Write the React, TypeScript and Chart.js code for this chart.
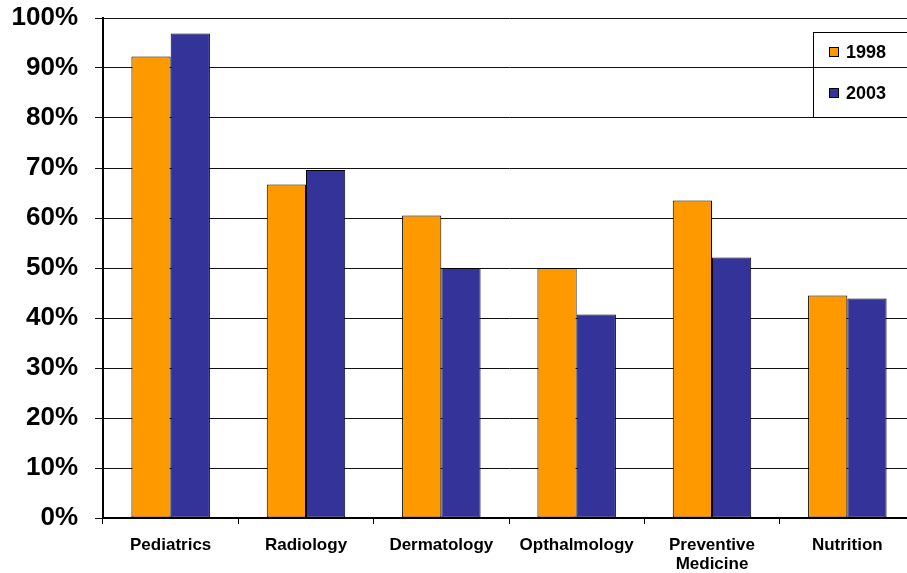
import React, { useEffect, useRef } from 'react';
import { Chart, registerables } from 'chart.js';

Chart.register(...registerables);

const categories: (string | string[])[] = [
  'Pediatrics',
  'Radiology',
  'Dermatology',
  'Opthalmology',
  ['Preventive', 'Medicine'],
  'Nutrition',
];
const seriesLabels = ['1998', '2003'];
const values1998 = [92.3, 66.7, 60.5, 50.0, 63.5, 44.5];
const values2003 = [96.9, 69.6, 50.0, 40.7, 52.1, 43.9];
const colors = ['#FF9900', '#333399'];
const yMin = 0;
const yMax = 100;
const yStep = 10;

const FONT = "Arial, 'Liberation Sans', Helvetica, sans-serif";

const boxLegend = {
  id: 'boxLegend',
  afterDatasetsDraw(chart: any) {
    const ctx = chart.ctx as CanvasRenderingContext2D;
    ctx.save();
    ctx.strokeStyle = '#000';
    ctx.lineWidth = 1;
    ctx.strokeRect(813.5, 32.5, 200, 85);
    chart.data.datasets.forEach((ds: any, i: number) => {
      const cy = 52 + i * 41;
      ctx.fillStyle = ds.backgroundColor;
      ctx.fillRect(829, cy - 5, 10, 10);
      ctx.strokeRect(829.5, cy - 4.5, 9, 9);
      ctx.fillStyle = '#000';
      ctx.font = `bold 18px ${FONT}`;
      ctx.textBaseline = 'middle';
      ctx.textAlign = 'left';
      ctx.fillText(ds.label, 846, cy + 1);
    });
    ctx.restore();
  },
};

export default function App() {
  const ref = useRef<HTMLCanvasElement>(null);
  useEffect(() => {
    if (!ref.current) return;
    const chart = new Chart(ref.current, {
      type: 'bar',
      data: {
        labels: categories,
        datasets: [
          {
            label: seriesLabels[0],
            data: values1998,
            backgroundColor: colors[0],
            borderColor: '#000',
            borderWidth: 1,
            borderSkipped: false,
          },
          {
            label: seriesLabels[1],
            data: values2003,
            backgroundColor: colors[1],
            borderColor: '#000',
            borderWidth: 1,
            borderSkipped: false,
          },
        ],
      },
      options: {
        animation: false,
        responsive: true,
        maintainAspectRatio: false,
        layout: { padding: { top: 18, left: 0, right: 0, bottom: 0 } },
        datasets: { bar: { categoryPercentage: 0.58, barPercentage: 1.0 } },
        plugins: {
          legend: { display: false },
          tooltip: { enabled: false },
          title: { display: false },
        },
        scales: {
          x: {
            offset: true,
            grid: {
              offset: true,
              drawOnChartArea: false,
              drawTicks: true,
              tickLength: 6,
              color: '#000',
              lineWidth: 1,
            },
            border: { display: true, color: '#000', width: 2 },
            ticks: {
              color: '#000',
              font: { family: FONT, size: 17, weight: 'bold', lineHeight: 1.1 },
              padding: 12,
              maxRotation: 0,
              autoSkip: false,
            },
            afterFit(scale: any) {
              scale.height = 55;
            },
          },
          y: {
            min: yMin,
            max: yMax,
            grid: {
              color: '#111',
              lineWidth: 1,
              drawTicks: true,
              tickLength: 8,
            },
            border: { display: true, color: '#000', width: 2 },
            ticks: {
              stepSize: yStep,
              color: '#000',
              padding: 17,
              font: { family: FONT, size: 26, weight: 'bold' },
              callback: (v: any) => `${v}%`,
            },
            afterFit(scale: any) {
              scale.width = 103;
              scale.paddingTop = 0;
              scale.paddingBottom = 0;
            },
          },
        },
      },
      plugins: [boxLegend],
    });
    return () => chart.destroy();
  }, []);

  return (
    <div
      style={{
        position: 'fixed',
        left: 0,
        top: 0,
        width: 907,
        height: 573,
        overflow: 'hidden',
        background: '#fff',
      }}
    >
      <div style={{ position: 'relative', width: 915, height: 573 }}>
        <canvas ref={ref} />
      </div>
    </div>
  );
}
